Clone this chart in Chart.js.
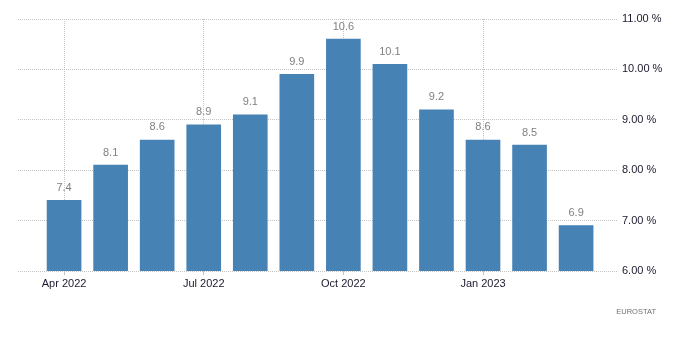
<!DOCTYPE html>
<html>
<head>
<meta charset="utf-8">
<script src="https://cdn.jsdelivr.net/npm/chart.js@4/dist/chart.umd.min.js"></script>
<style>
html,body{margin:0;padding:0;background:#fff;}
#wrap{width:700px;height:364px;position:relative;}
</style>
</head>
<body>
<div id="wrap"><canvas id="c" width="700" height="364"></canvas></div>
<script>
const categories = ['Apr 2022','May 2022','Jun 2022','Jul 2022','Aug 2022','Sep 2022','Oct 2022','Nov 2022','Dec 2022','Jan 2023','Feb 2023','Mar 2023'];
const values = [7.4, 8.1, 8.6, 8.9, 9.1, 9.9, 10.6, 10.1, 9.2, 8.6, 8.5, 6.9];
const xTickIndexes = [0, 3, 6, 9];
const yTicks = [6, 7, 8, 9, 10, 11];
const sourceLabel = 'EUROSTAT';

const FONT = '"Liberation Sans", Arial, sans-serif';

const valueLabels = {
  id: 'valueLabels',
  afterDatasetsDraw(chart) {
    const ctx = chart.ctx;
    const meta = chart.getDatasetMeta(0);
    ctx.save();
    ctx.font = '11px ' + FONT;
    ctx.fillStyle = '#808080';
    ctx.textAlign = 'center';
    ctx.textBaseline = 'bottom';
    meta.data.forEach((bar, i) => {
      ctx.fillText(values[i].toFixed(1), bar.x, bar.y - 7);
    });
    ctx.restore();
  },
  afterDraw(chart) {
    const ctx = chart.ctx;
    ctx.save();
    ctx.font = '7.5px ' + FONT;
    ctx.fillStyle = '#707070';
    ctx.textAlign = 'right';
    ctx.textBaseline = 'middle';
    ctx.fillText(sourceLabel, 656, 312);
    ctx.restore();
  }
};

new Chart(document.getElementById('c'), {
  type: 'bar',
  data: {
    datasets: [{
      data: values.map((v, i) => ({x: i, y: v})),
      backgroundColor: '#4682B4',
      borderWidth: 0,
      barThickness: 34
    }]
  },
  options: {
    responsive: false,
    animation: false,
    layout: {padding: {left: 18, top: 19, right: 0, bottom: 0}},
    plugins: {legend: {display: false}, tooltip: {enabled: false}},
    scales: {
      x: {
        type: 'linear',
        min: -0.99,
        max: 11.9,
        offset: false,
        afterBuildTicks(scale) { scale.ticks = xTickIndexes.map(v => ({value: v})); },
        afterFit(scale) { scale.height = 93; },
        border: {display: false, dash: [1, 1]},
        grid: {offset: false, color: '#c4c4c4', lineWidth: 1, drawTicks: true, tickLength: 4, tickColor: '#c4c4c4'},
        ticks: {
          autoSkip: false,
          maxRotation: 0,
          padding: 2,
          color: '#1a1a2e',
          font: {family: FONT, size: 11},
          callback: (v) => categories[v] || ''
        }
      },
      y: {
        position: 'right',
        min: 6,
        max: 11,
        afterBuildTicks(scale) { scale.ticks = yTicks.map(v => ({value: v})); },
        afterFit(scale) { scale.width = 82; },
        border: {display: false, dash: [1, 1]},
        grid: {color: '#c4c4c4', lineWidth: 1, drawTicks: false},
        ticks: {
          padding: 4,
          color: '#1a1a2e',
          font: {family: FONT, size: 11},
          callback: (v) => v.toFixed(2) + ' %'
        }
      }
    }
  },
  plugins: [valueLabels]
});
</script>
</body>
</html>
